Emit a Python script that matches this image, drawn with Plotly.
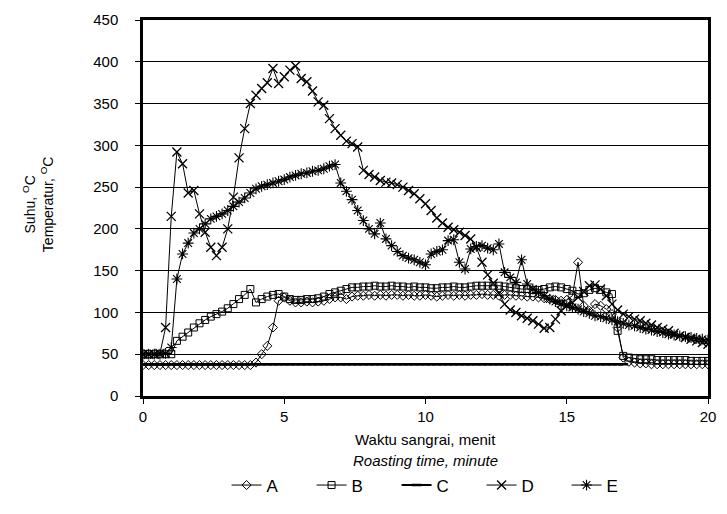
import plotly.graph_objects as go

time_min = [0.0, 0.2, 0.4, 0.6, 0.8, 1.0, 1.2, 1.4, 1.6, 1.8, 2.0, 2.2, 2.4, 2.6, 2.8, 3.0, 3.2, 3.4, 3.6, 3.8,
            4.0, 4.2, 4.4, 4.6, 4.8, 5.0, 5.2, 5.4, 5.6, 5.8, 6.0, 6.2, 6.4, 6.6, 6.8, 7.0, 7.2, 7.4, 7.6, 7.8,
            8.0, 8.2, 8.4, 8.6, 8.8, 9.0, 9.2, 9.4, 9.6, 9.8, 10.0, 10.2, 10.4, 10.6, 10.8, 11.0, 11.2, 11.4, 11.6, 11.8,
            12.0, 12.2, 12.4, 12.6, 12.8, 13.0, 13.2, 13.4, 13.6, 13.8, 14.0, 14.2, 14.4, 14.6, 14.8, 15.0, 15.2, 15.4, 15.6, 15.8,
            16.0, 16.2, 16.4, 16.6, 16.8, 17.0, 17.2, 17.4, 17.6, 17.8, 18.0, 18.2, 18.4, 18.6, 18.8, 19.0, 19.2, 19.4, 19.6, 19.8,
            20.0]

temp_A = [37, 37, 37, 37, 37, 37, 37, 37, 37, 37, 37, 37, 37, 37, 37, 37, 37, 37, 37, 37,
          40, 50, 60, 82, 114, 118, 114, 112, 112, 113, 112, 113, 114, 116, 118, 118, 116, 119, 120, 120,
          121, 120, 121, 120, 121, 121, 120, 121, 120, 120, 121, 120, 119, 120, 121, 120, 121, 120, 121, 121,
          122, 121, 121, 120, 121, 121, 120, 120, 119, 119, 118, 117, 116, 115, 114, 115, 120, 160, 108, 102,
          110, 108, 104, 98, 82, 46, 41, 40, 39, 39, 38, 38, 38, 38, 38, 38, 38, 38, 38, 38,
          38]

temp_B = [50, 50, 50, 50, 50, 50, 66, 71, 76, 82, 87, 91, 95, 98, 101, 105, 110, 116, 121, 128,
          112, 116, 119, 121, 122, 119, 116, 115, 115, 116, 116, 117, 119, 122, 124, 126, 128, 130, 130, 131,
          131, 132, 131, 131, 132, 131, 131, 130, 131, 130, 130, 129, 129, 130, 130, 131, 130, 130, 131, 132,
          132, 132, 132, 132, 131, 130, 129, 128, 128, 127, 127, 128, 130, 131, 130, 128, 126, 122, 123, 127,
          129, 127, 124, 122, 78, 48, 46, 45, 44, 44, 44, 43, 43, 43, 43, 43, 43, 42, 42, 42,
          42]

temp_C = [38] * 86 + [None] * 15

temp_D = [50, 50, 50, 51, 82, 215, 292, 278, 243, 246, 218, 196, 178, 168, 178, 200, 238, 285, 320, 350,
          360, 368, 375, 392, 374, 382, 390, 395, 380, 376, 365, 352, 348, 332, 320, 312, 305, 302, 298, 270,
          265, 262, 258, 256, 255, 253, 250, 246, 242, 236, 230, 222, 213, 207, 202, 199, 196, 192, 188, 178,
          160, 145, 135, 123, 110, 103, 100, 96, 93, 90, 86, 81, 82, 92, 102, 108, 112, 118, 125, 132,
          133, 128, 120, 110, 103, 98, 95, 92, 90, 87, 85, 82, 80, 78, 75, 72, 70, 68, 66, 64,
          62]

temp_E = [50, 50, 50, 50, 51, 58, 140, 170, 183, 195, 200, 206, 212, 215, 218, 222, 227, 232, 237, 243,
          248, 251, 253, 255, 257, 259, 262, 264, 266, 267, 269, 270, 272, 275, 277, 255, 245, 235, 222, 210,
          200, 194, 207, 188, 180, 173, 168, 165, 163, 160, 157, 170, 173, 175, 186, 187, 160, 152, 176, 179,
          180, 177, 175, 182, 148, 142, 136, 163, 134, 128, 124, 120, 116, 113, 110, 108, 106, 104, 101, 99,
          96, 95, 93, 91, 89, 87, 85, 84, 82, 80, 79, 77, 76, 74, 73, 72, 71, 70, 69, 68,
          67]

series_names = ["A", "B", "C", "D", "E"]
series_values = [temp_A, temp_B, temp_C, temp_D, temp_E]

FONT = "Liberation Sans, Arial, sans-serif"

styles = {
    "A": dict(marker=dict(symbol="diamond-open", size=7, color="black", line=dict(width=1, color="black")),
              line=dict(color="black", width=1)),
    "B": dict(marker=dict(symbol="square-open", size=7, color="black", line=dict(width=1, color="black")),
              line=dict(color="black", width=1)),
    "C": dict(marker=dict(symbol="line-ew", size=7, color="black", line=dict(width=2.5, color="black")),
              line=dict(color="black", width=2)),
    "D": dict(marker=dict(symbol="x-thin", size=9, color="black", line=dict(width=1.3, color="black")),
              line=dict(color="black", width=1)),
    "E": dict(marker=dict(symbol="asterisk", size=9, color="black", line=dict(width=1.1, color="black")),
              line=dict(color="black", width=1)),
}

fig = go.Figure()
for name, vals in zip(series_names, series_values):
    fig.add_trace(go.Scatter(x=time_min, y=vals, name=name, mode="lines+markers",
                             connectgaps=False, **styles[name]))

fig.update_layout(
    width=727, height=514,
    margin=dict(l=143, r=11, t=13, b=118),
    paper_bgcolor="white", plot_bgcolor="white",
    font=dict(family=FONT, size=15, color="black"),
    showlegend=True,
    legend=dict(orientation="h", x=0.524, xanchor="center", y=-0.238, yanchor="middle",
                font=dict(size=17, family=FONT), entrywidth=40, entrywidthmode="pixels",
                bgcolor="rgba(0,0,0,0)"),
    xaxis=dict(range=[0, 20], tick0=0, dtick=5, showgrid=False, zeroline=False,
               showline=True, linecolor="black", linewidth=2.5, mirror=True,
               ticks="outside", ticklen=5, tickcolor="black", tickfont=dict(size=15)),
    yaxis=dict(range=[0, 450], tick0=0, dtick=50, showgrid=True, gridcolor="black", gridwidth=1,
               zeroline=False, showline=True, linecolor="black", linewidth=2.5, mirror=True,
               ticks="outside", ticklen=5, tickcolor="black", tickfont=dict(size=15),
               ticklabelstandoff=14),
    annotations=[
        dict(text="Suhu, <sup>O</sup>C<br>Temperatur, <sup>O</sup>C", xref="paper", yref="paper",
             x=-0.186, y=0.51, xanchor="center", yanchor="middle", textangle=-90, showarrow=False,
             font=dict(size=14, family=FONT)),
        dict(text="Waktu sangrai, menit", xref="paper", yref="paper", x=0.5, y=-0.115,
             xanchor="center", yanchor="middle", showarrow=False, font=dict(size=15, family=FONT)),
        dict(text="<i>Roasting time, minute</i>", xref="paper", yref="paper", x=0.5, y=-0.172,
             xanchor="center", yanchor="middle", showarrow=False, font=dict(size=15, family=FONT)),
    ],
)

fig.write_html("out.html")
